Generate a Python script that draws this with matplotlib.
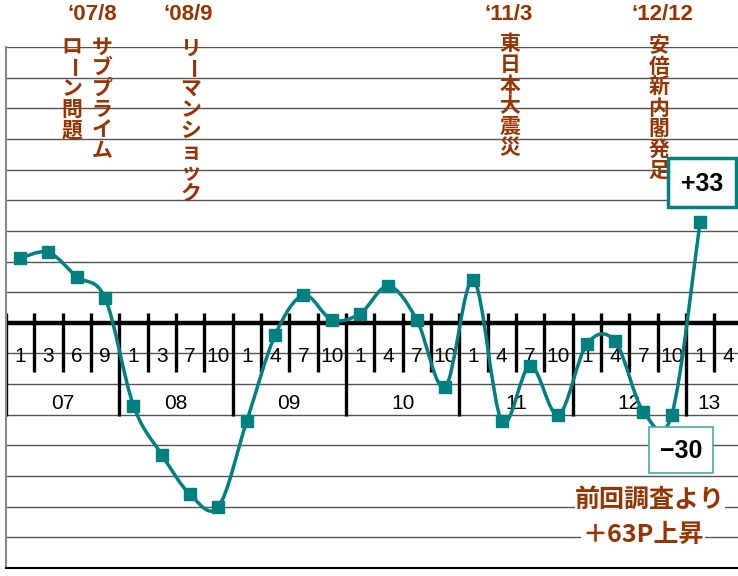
import numpy as np
import matplotlib
matplotlib.use('Agg')
import matplotlib.pyplot as plt
from matplotlib.path import Path
from matplotlib.patches import PathPatch, Rectangle

W, H = 738, 576
TEAL = '#008080'
BROWN = '#993300'
JP = ['Noto Sans CJK JP', 'DejaVu Sans']

# data (quarterly DI, 2007 Q1 .. 2013 Q1)
years = ['07', '08', '09', '10', '11', '12', '13']
months = [['1', '3', '6', '9'], ['1', '3', '7', '10'], ['1', '4', '7', '10'],
          ['1', '4', '7', '10'], ['1', '4', '7', '10'], ['1', '4', '7', '10'],
          ['1', '4']]
di = [21, 23, 15, 8, -27, -43, -56, -60, -32, -4, 9, 1, 3, 12, 1, -21,
      14, -32, -14, -30, -7, -6, -29, -30, 33]

events = ['‘07/8', '‘08/9', '‘11/3', '‘12/12']
event_texts = ['ローン問題', 'サブプライム', 'リーマンショック', '東日本大震災', '安倍新内閣発足']


def px(x, y):
    # pixel position -> figure fraction
    return x / W, 1 - y / H


def smooth_path(xs, ys):
    pts = np.column_stack([xs, ys])
    p = np.vstack([pts[0], pts, pts[-1]])
    verts = [pts[0]]
    codes = [Path.MOVETO]
    for i in range(1, len(p) - 2):
        c1 = p[i] + (p[i + 1] - p[i - 1]) / 6
        c2 = p[i + 1] - (p[i + 2] - p[i]) / 6
        verts += [c1, c2, p[i + 1]]
        codes += [Path.CURVE4] * 3
    return Path(verts, codes)


fig = plt.figure(figsize=(W / 100, H / 100), dpi=100)
ax = fig.add_axes([6 / W, 8 / H, (W - 6) / W, 521 / H])
ax.set_xlim(0, (W - 6) / 28.33)
ax.set_ylim(-80, 90)
ax.set_xticks([])
ax.set_yticks([])
for s in ['top', 'right']:
    ax.spines[s].set_visible(False)
ax.spines['left'].set_color('#888888')
ax.spines['left'].set_linewidth(1.5)
ax.spines['bottom'].set_color('black')
ax.spines['bottom'].set_linewidth(1.5)

for v in range(-70, 100, 10):
    if v != 0:
        ax.axhline(v, color='#555555', lw=1.0, zorder=1)
ax.axhline(0, color='black', lw=3.2, zorder=2)

# quarter ticks and year separators
n_q = sum(len(m) for m in months)
for k in range(n_q + 1):
    if k % 4 == 0:
        ax.vlines(k, -30.3, 3.2, color='black', lw=2.4, zorder=2)
    else:
        ax.vlines(k, -16.2, 3.2, color='black', lw=2.4, zorder=2)

x_max = ax.get_xlim()[1]
q = 0
for yi, yr in enumerate(years):
    for m in months[yi]:
        ax.text(q + 0.5, -11, m, ha='center', va='center', fontsize=15,
                family='Liberation Sans', zorder=3)
        q += 1
    # last year is only partly shown: centre its label on the visible part
    xc = min(yi * 4 + 2, (yi * 4 + x_max) / 2 - 0.1)
    ax.text(xc, -26.4, yr, ha='center', va='center', fontsize=15,
            family='Liberation Sans', zorder=3)

xs = np.arange(len(di)) + 0.5
ax.add_patch(PathPatch(smooth_path(xs, di), facecolor='none', edgecolor=TEAL,
                       lw=2.5, zorder=4))
ax.plot(xs, di, 's', color=TEAL, ms=8, zorder=5)

# event labels
for x, t in zip([92, 188, 509, 662], events):
    fig.text(*px(x, 15), t, ha='center', va='center', fontsize=16,
             fontweight='bold', color=BROWN, family=['Liberation Sans', 'DejaVu Sans'])

for x, y0, t in zip([72, 102, 191, 510, 659], [47, 47, 48, 44, 46], event_texts):
    for i, ch in enumerate(t):
        fig.text(*px(x, y0 + 20.7 * i), ch, ha='center', va='center', fontsize=15,
                 fontweight='bold', color=BROWN, family=JP,
                 rotation=-90 if ch == 'ー' else 0)

# value boxes
fig.add_artist(Rectangle(px(668, 207), 68 / W, 49 / H, transform=fig.transFigure,
                         facecolor='white', edgecolor=TEAL, lw=2.5, zorder=6))
fig.text(*px(702, 184), '+33', ha='center', va='center', fontsize=18,
         fontweight='bold', family='Liberation Sans', zorder=7)

fig.add_artist(Rectangle(px(649, 473), 64 / W, 46 / H, transform=fig.transFigure,
                         facecolor='white', edgecolor='#4aa8a8', lw=1.2, zorder=6))
fig.text(*px(681, 451), '−30', ha='center', va='center', fontsize=18,
         fontweight='bold', family='Liberation Sans', zorder=7)

fig.text(*px(650, 500), '前回調査より', ha='center', va='center', fontsize=18,
         fontweight='bold', color=BROWN, family=JP, zorder=7,
         bbox=dict(facecolor='white', edgecolor='none', pad=0))
fig.text(*px(643, 535), '＋63P上昇', ha='center', va='center', fontsize=18,
         fontweight='bold', color=BROWN, family=JP, zorder=7,
         bbox=dict(facecolor='white', edgecolor='none', pad=1))

fig.savefig('out.png', dpi=100)
